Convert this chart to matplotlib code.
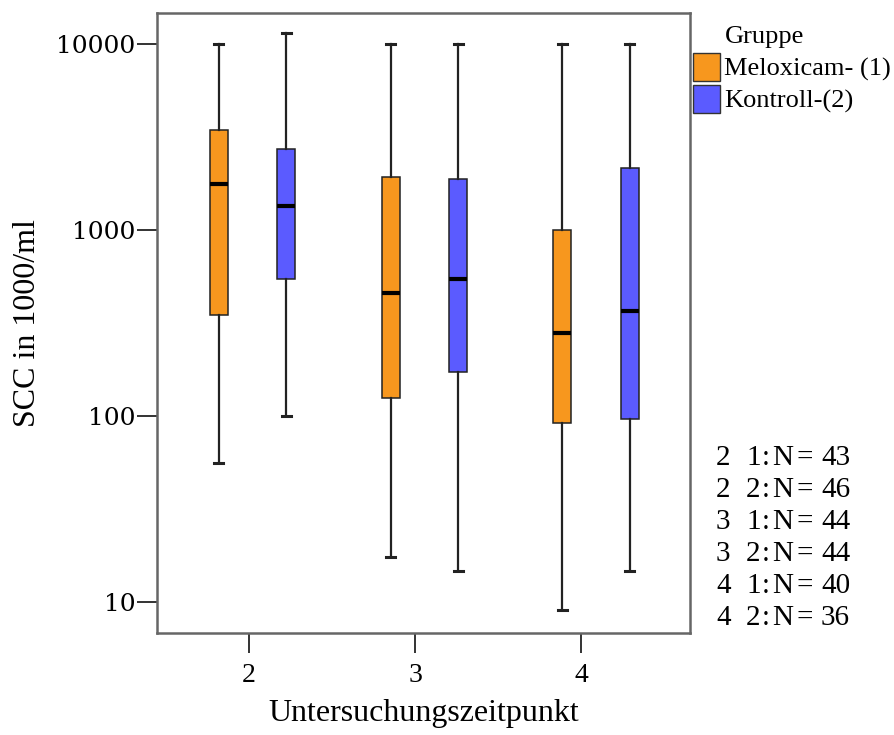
import matplotlib
matplotlib.use("Agg")
import matplotlib.pyplot as plt
from matplotlib.patches import Patch
from matplotlib.ticker import FixedLocator, FixedFormatter

# ---- data ----
timepoints = [2, 3, 4]
groups = ["Meloxicam- (1)", "Kontroll-(2)"]
legend_title = "Gruppe"
# five-number summaries per timepoint (whislo, q1, med, q3, whishi)
melox_whislo = [56, 17.5, 9.1]
melox_q1 = [348, 126, 92]
melox_med = [1775, 461, 279]
melox_q3 = [3450, 1936, 1005]
melox_whishi = [10000, 10000, 10000]

kontr_whislo = [100, 14.7, 14.7]
kontr_q1 = [548, 173, 97]
kontr_med = [1350, 544, 369]
kontr_q3 = [2720, 1875, 2150]
kontr_whishi = [11400, 10000, 10000]

n_time = ["2", "2", "3", "3", "4", "4"]
n_group = ["1", "2", "1", "2", "1", "2"]
n_counts = ["43", "46", "44", "44", "40", "36"]
yticks = [10, 100, 1000, 10000]

# ---- style ----
ORANGE = "#F7971E"
BLUE = "#5B5BFF"
SERIF = ["Liberation Serif", "DejaVu Serif"]
group_shift = [0.021, 0.056, 0.088]
offset = 0.204
width = 0.108
W, H = 895, 735

fig = plt.figure(figsize=(8.95, 7.35), dpi=100)
ax = fig.add_axes([157/W, 1-633/H, (690-157)/W, (633-13)/H])
ax.set_yscale("log")

def stats(wl, q1, md, q3, wh):
    return [dict(whislo=a, q1=b, med=c, q3=d, whishi=e, fliers=[])
            for a, b, c, d, e in zip(wl, q1, md, q3, wh)]

for st, col, sgn in [
    (stats(melox_whislo, melox_q1, melox_med, melox_q3, melox_whishi), ORANGE, -1),
    (stats(kontr_whislo, kontr_q1, kontr_med, kontr_q3, kontr_whishi), BLUE, 1),
]:
    pos = [t + s + sgn*offset for t, s in zip(timepoints, group_shift)]
    ax.bxp(st, positions=pos, widths=width, patch_artist=True, showfliers=False,
           boxprops=dict(facecolor=col, edgecolor="#222222", linewidth=1.1),
           medianprops=dict(color="black", linewidth=3),
           whiskerprops=dict(color="#222222", linewidth=1.6),
           capprops=dict(color="#222222", linewidth=2.2),
           capwidths=width*0.5, manage_ticks=False)

ax.set_xlim(1.446, 4.654)
ax.set_ylim(6.84, 14680)
ax.set_xticks(timepoints)
ax.set_xticklabels([str(t) for t in timepoints], fontfamily=SERIF, fontsize=20)
ax.yaxis.set_major_locator(FixedLocator(yticks))
ax.yaxis.set_major_formatter(FixedFormatter([str(v) for v in yticks]))
ax.yaxis.set_minor_locator(FixedLocator([]))
ax.tick_params(axis="y", labelfontfamily="DejaVu Serif", labelsize=18)
ax.tick_params(axis="both", length=14.5, width=1.4, color="#333333", pad=1)
ax.tick_params(axis="x", pad=7)
for sp in ax.spines.values():
    sp.set_color("#666666")
    sp.set_linewidth(1.8)

ax.set_xlabel("Untersuchungszeitpunkt", fontfamily=SERIF, fontsize=23, labelpad=8)
ax.set_ylabel("SCC in 1000/ml", fontfamily=SERIF, fontsize=23, labelpad=10)

handles = [Patch(facecolor=ORANGE, edgecolor="#333333"),
           Patch(facecolor=BLUE, edgecolor="#333333")]
leg = fig.legend(handles, groups, loc="upper left",
                 bbox_to_anchor=(690/W, 1-50/H), frameon=False,
                 prop=dict(family=SERIF, size=19),
                 handlelength=1.05, handleheight=1.3, handletextpad=0.15,
                 labelspacing=0.12, borderpad=0.1, borderaxespad=0)
fig.text(725/W, 1-37/H, legend_title, fontfamily=SERIF, fontsize=19,
         va="center", ha="left")

for i in range(len(n_counts)):
    y = 1 - (458 + 32*i)/H
    for x, t in [(716, n_time[i]), (746, n_group[i]), (762, ":"), (772, "N"),
                 (797, "="), (821, n_counts[i])]:
        fig.text(x/W, y, t, fontfamily=SERIF, fontsize=21, va="center", ha="left")

fig.savefig("out.png", dpi=100, facecolor="white")
